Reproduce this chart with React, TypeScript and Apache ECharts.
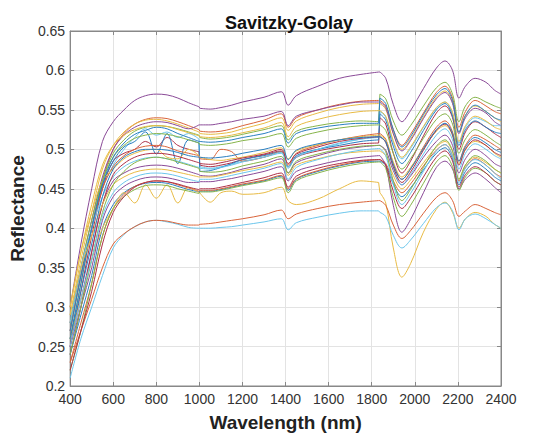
import React, { useEffect, useRef } from "react";
import * as echarts from "echarts";

const wavelengths = [400, 450, 500, 550, 600, 650, 700, 750, 800, 850, 900, 950, 998, 1002, 1050, 1100, 1150, 1200, 1300, 1380, 1412, 1450, 1550, 1650, 1750, 1832, 1838, 1865, 1900, 1940, 1980, 2040, 2100, 2140, 2175, 2205, 2235, 2280, 2330, 2370, 2400];

const xTicks = [400, 600, 800, 1000, 1200, 1400, 1600, 1800, 2000, 2200, 2400];
const yTicks = [0.2, 0.25, 0.3, 0.35, 0.4, 0.45, 0.5, 0.55, 0.6, 0.65];

const spec01 = [0.30, 0.38, 0.45, 0.51, 0.535, 0.550, 0.562, 0.568, 0.570, 0.569, 0.565, 0.559, 0.554, 0.552, 0.551, 0.553, 0.556, 0.560, 0.566, 0.573, 0.556, 0.568, 0.580, 0.590, 0.595, 0.598, 0.598, 0.590, 0.557, 0.535, 0.549, 0.577, 0.603, 0.612, 0.600, 0.565, 0.580, 0.590, 0.585, 0.575, 0.570];
const spec02 = [0.27, 0.34, 0.40, 0.46, 0.50, 0.520, 0.532, 0.538, 0.540, 0.539, 0.535, 0.530, 0.525, 0.523, 0.522, 0.523, 0.526, 0.530, 0.537, 0.545, 0.528, 0.540, 0.550, 0.557, 0.561, 0.562, 0.562, 0.555, 0.525, 0.505, 0.519, 0.546, 0.572, 0.580, 0.565, 0.528, 0.548, 0.562, 0.555, 0.548, 0.545];
const spec03 = [0.29, 0.36, 0.42, 0.475, 0.505, 0.522, 0.532, 0.537, 0.538, 0.536, 0.532, 0.527, 0.522, 0.520, 0.519, 0.520, 0.522, 0.526, 0.533, 0.540, 0.524, 0.536, 0.546, 0.553, 0.557, 0.558, 0.558, 0.551, 0.520, 0.500, 0.513, 0.541, 0.566, 0.574, 0.560, 0.522, 0.543, 0.555, 0.548, 0.540, 0.535];
const spec04 = [0.28, 0.35, 0.41, 0.465, 0.50, 0.518, 0.528, 0.533, 0.535, 0.534, 0.530, 0.526, 0.531, 0.531, 0.531, 0.533, 0.535, 0.538, 0.542, 0.548, 0.530, 0.542, 0.550, 0.556, 0.560, 0.560, 0.560, 0.553, 0.520, 0.498, 0.511, 0.539, 0.564, 0.572, 0.558, 0.520, 0.540, 0.552, 0.546, 0.535, 0.530];
const spec05 = [0.26, 0.33, 0.40, 0.46, 0.495, 0.512, 0.523, 0.528, 0.530, 0.529, 0.526, 0.522, 0.518, 0.515, 0.513, 0.514, 0.516, 0.519, 0.525, 0.530, 0.512, 0.523, 0.530, 0.534, 0.536, 0.535, 0.570, 0.564, 0.536, 0.518, 0.530, 0.555, 0.578, 0.585, 0.570, 0.535, 0.555, 0.566, 0.560, 0.555, 0.552];
const spec06 = [0.27, 0.34, 0.40, 0.45, 0.48, 0.500, 0.515, 0.526, 0.518, 0.522, 0.515, 0.520, 0.513, 0.478, 0.476, 0.478, 0.481, 0.485, 0.490, 0.495, 0.476, 0.490, 0.500, 0.507, 0.513, 0.515, 0.548, 0.541, 0.509, 0.488, 0.501, 0.528, 0.552, 0.560, 0.545, 0.508, 0.528, 0.540, 0.535, 0.530, 0.530];
const spec07 = [0.25, 0.32, 0.39, 0.45, 0.485, 0.495, 0.500, 0.510, 0.503, 0.515, 0.505, 0.500, 0.497, 0.480, 0.478, 0.480, 0.483, 0.487, 0.493, 0.498, 0.478, 0.490, 0.498, 0.503, 0.507, 0.508, 0.540, 0.532, 0.495, 0.470, 0.485, 0.517, 0.546, 0.555, 0.540, 0.500, 0.522, 0.535, 0.528, 0.520, 0.515];
const spec08 = [0.26, 0.33, 0.40, 0.455, 0.485, 0.503, 0.510, 0.522, 0.494, 0.520, 0.482, 0.512, 0.508, 0.472, 0.473, 0.477, 0.482, 0.487, 0.492, 0.497, 0.478, 0.492, 0.500, 0.505, 0.510, 0.512, 0.545, 0.537, 0.504, 0.482, 0.496, 0.524, 0.550, 0.558, 0.542, 0.505, 0.525, 0.536, 0.528, 0.522, 0.520];
const spec09 = [0.27, 0.34, 0.40, 0.45, 0.478, 0.492, 0.500, 0.504, 0.505, 0.503, 0.498, 0.495, 0.492, 0.488, 0.487, 0.500, 0.497, 0.485, 0.490, 0.497, 0.480, 0.495, 0.505, 0.512, 0.517, 0.520, 0.520, 0.513, 0.482, 0.462, 0.475, 0.503, 0.528, 0.536, 0.522, 0.485, 0.505, 0.518, 0.512, 0.505, 0.500];
const spec10 = [0.30, 0.37, 0.42, 0.46, 0.475, 0.488, 0.495, 0.499, 0.500, 0.490, 0.488, 0.500, 0.492, 0.490, 0.487, 0.486, 0.488, 0.490, 0.496, 0.502, 0.488, 0.498, 0.506, 0.512, 0.516, 0.518, 0.518, 0.512, 0.484, 0.465, 0.477, 0.501, 0.523, 0.530, 0.518, 0.482, 0.500, 0.510, 0.505, 0.495, 0.490];
const spec11 = [0.25, 0.31, 0.37, 0.43, 0.46, 0.470, 0.476, 0.479, 0.480, 0.479, 0.476, 0.472, 0.468, 0.467, 0.466, 0.468, 0.471, 0.475, 0.481, 0.488, 0.470, 0.483, 0.492, 0.499, 0.503, 0.505, 0.505, 0.499, 0.473, 0.455, 0.466, 0.490, 0.510, 0.518, 0.505, 0.470, 0.488, 0.500, 0.492, 0.482, 0.478];
const spec12 = [0.28, 0.35, 0.41, 0.46, 0.49, 0.505, 0.514, 0.518, 0.520, 0.519, 0.516, 0.512, 0.508, 0.506, 0.505, 0.506, 0.508, 0.511, 0.515, 0.520, 0.503, 0.514, 0.522, 0.527, 0.530, 0.531, 0.531, 0.524, 0.495, 0.475, 0.488, 0.514, 0.538, 0.545, 0.532, 0.495, 0.513, 0.525, 0.518, 0.510, 0.505];
const spec13 = [0.28, 0.35, 0.40, 0.44, 0.465, 0.478, 0.485, 0.489, 0.490, 0.488, 0.485, 0.481, 0.477, 0.476, 0.475, 0.477, 0.480, 0.484, 0.490, 0.496, 0.478, 0.490, 0.500, 0.508, 0.513, 0.516, 0.516, 0.509, 0.476, 0.455, 0.468, 0.494, 0.518, 0.526, 0.512, 0.475, 0.495, 0.507, 0.500, 0.492, 0.488];
const spec14 = [0.24, 0.30, 0.37, 0.43, 0.468, 0.482, 0.490, 0.494, 0.495, 0.494, 0.491, 0.487, 0.483, 0.482, 0.481, 0.483, 0.486, 0.489, 0.494, 0.500, 0.482, 0.494, 0.503, 0.510, 0.514, 0.516, 0.516, 0.509, 0.478, 0.458, 0.471, 0.499, 0.524, 0.532, 0.518, 0.480, 0.500, 0.512, 0.505, 0.496, 0.492];
const spec15 = [0.24, 0.29, 0.34, 0.40, 0.43, 0.445, 0.453, 0.457, 0.458, 0.457, 0.453, 0.449, 0.446, 0.447, 0.447, 0.449, 0.452, 0.455, 0.460, 0.466, 0.448, 0.462, 0.472, 0.479, 0.484, 0.485, 0.485, 0.480, 0.456, 0.440, 0.451, 0.474, 0.495, 0.502, 0.488, 0.455, 0.472, 0.483, 0.475, 0.465, 0.460];
const spec16 = [0.23, 0.28, 0.33, 0.39, 0.425, 0.443, 0.453, 0.458, 0.460, 0.459, 0.455, 0.451, 0.447, 0.448, 0.448, 0.450, 0.453, 0.456, 0.461, 0.467, 0.450, 0.463, 0.473, 0.480, 0.485, 0.487, 0.487, 0.482, 0.460, 0.445, 0.456, 0.479, 0.499, 0.506, 0.492, 0.460, 0.477, 0.488, 0.480, 0.470, 0.465];
const spec17 = [0.26, 0.31, 0.36, 0.40, 0.425, 0.445, 0.432, 0.455, 0.438, 0.455, 0.432, 0.452, 0.445, 0.445, 0.433, 0.445, 0.447, 0.443, 0.445, 0.452, 0.435, 0.430, 0.437, 0.450, 0.460, 0.458, 0.445, 0.432, 0.375, 0.338, 0.355, 0.395, 0.424, 0.433, 0.420, 0.400, 0.412, 0.420, 0.415, 0.405, 0.400];
const spec18 = [0.25, 0.30, 0.35, 0.41, 0.44, 0.453, 0.460, 0.464, 0.465, 0.464, 0.461, 0.458, 0.458, 0.459, 0.459, 0.461, 0.463, 0.466, 0.472, 0.478, 0.460, 0.472, 0.480, 0.486, 0.490, 0.492, 0.492, 0.480, 0.429, 0.395, 0.411, 0.445, 0.477, 0.485, 0.475, 0.450, 0.462, 0.470, 0.462, 0.452, 0.445];
const spec19 = [0.22, 0.27, 0.33, 0.39, 0.425, 0.440, 0.449, 0.454, 0.455, 0.454, 0.450, 0.447, 0.444, 0.446, 0.446, 0.448, 0.451, 0.454, 0.459, 0.464, 0.445, 0.460, 0.470, 0.477, 0.482, 0.484, 0.484, 0.476, 0.439, 0.415, 0.429, 0.457, 0.484, 0.492, 0.478, 0.448, 0.465, 0.476, 0.470, 0.460, 0.455];
const spec20 = [0.21, 0.26, 0.30, 0.34, 0.375, 0.392, 0.402, 0.408, 0.410, 0.408, 0.405, 0.401, 0.400, 0.400, 0.400, 0.401, 0.402, 0.404, 0.408, 0.412, 0.398, 0.407, 0.414, 0.419, 0.422, 0.422, 0.420, 0.415, 0.391, 0.375, 0.385, 0.406, 0.426, 0.432, 0.422, 0.398, 0.412, 0.418, 0.412, 0.405, 0.400];
const spec21 = [0.23, 0.27, 0.31, 0.35, 0.38, 0.393, 0.402, 0.408, 0.410, 0.409, 0.406, 0.404, 0.404, 0.405, 0.406, 0.408, 0.410, 0.412, 0.417, 0.423, 0.412, 0.418, 0.425, 0.430, 0.433, 0.435, 0.435, 0.429, 0.404, 0.387, 0.397, 0.419, 0.439, 0.445, 0.435, 0.415, 0.422, 0.430, 0.425, 0.420, 0.417];
const spec22 = [0.27, 0.34, 0.40, 0.455, 0.49, 0.508, 0.519, 0.524, 0.528, 0.526, 0.520, 0.515, 0.510, 0.510, 0.509, 0.510, 0.512, 0.515, 0.520, 0.526, 0.508, 0.520, 0.527, 0.531, 0.533, 0.533, 0.565, 0.558, 0.525, 0.503, 0.516, 0.544, 0.569, 0.577, 0.562, 0.522, 0.543, 0.556, 0.548, 0.540, 0.537];
const spec23 = [0.29, 0.35, 0.39, 0.43, 0.455, 0.465, 0.471, 0.474, 0.475, 0.474, 0.471, 0.468, 0.465, 0.465, 0.465, 0.467, 0.470, 0.473, 0.478, 0.484, 0.467, 0.480, 0.488, 0.494, 0.497, 0.498, 0.498, 0.492, 0.467, 0.450, 0.461, 0.483, 0.503, 0.510, 0.497, 0.462, 0.480, 0.490, 0.483, 0.475, 0.470];
const spec24 = [0.24, 0.30, 0.36, 0.42, 0.455, 0.472, 0.483, 0.488, 0.490, 0.488, 0.484, 0.480, 0.476, 0.472, 0.471, 0.472, 0.475, 0.479, 0.485, 0.491, 0.470, 0.485, 0.494, 0.500, 0.504, 0.505, 0.505, 0.497, 0.460, 0.435, 0.449, 0.477, 0.504, 0.512, 0.498, 0.462, 0.480, 0.492, 0.485, 0.475, 0.470];
const spec25 = [0.25, 0.31, 0.36, 0.415, 0.445, 0.458, 0.465, 0.469, 0.470, 0.469, 0.466, 0.462, 0.459, 0.462, 0.462, 0.464, 0.467, 0.470, 0.476, 0.482, 0.462, 0.477, 0.487, 0.494, 0.499, 0.501, 0.501, 0.492, 0.455, 0.430, 0.444, 0.472, 0.498, 0.506, 0.492, 0.458, 0.476, 0.487, 0.480, 0.470, 0.462];
const spec26 = [0.22, 0.27, 0.32, 0.38, 0.42, 0.440, 0.452, 0.458, 0.460, 0.459, 0.456, 0.452, 0.449, 0.450, 0.450, 0.452, 0.455, 0.458, 0.464, 0.470, 0.452, 0.466, 0.476, 0.482, 0.486, 0.487, 0.487, 0.480, 0.447, 0.425, 0.438, 0.465, 0.490, 0.498, 0.485, 0.452, 0.468, 0.478, 0.470, 0.460, 0.455];
const spec27 = [0.26, 0.32, 0.38, 0.44, 0.475, 0.490, 0.497, 0.500, 0.500, 0.499, 0.496, 0.492, 0.490, 0.490, 0.489, 0.490, 0.492, 0.495, 0.500, 0.505, 0.487, 0.499, 0.507, 0.512, 0.515, 0.516, 0.516, 0.510, 0.481, 0.462, 0.475, 0.501, 0.525, 0.533, 0.520, 0.485, 0.503, 0.515, 0.508, 0.500, 0.496];
const spec28 = [0.30, 0.37, 0.43, 0.48, 0.505, 0.518, 0.525, 0.529, 0.530, 0.529, 0.525, 0.521, 0.517, 0.516, 0.515, 0.516, 0.518, 0.521, 0.527, 0.534, 0.516, 0.529, 0.538, 0.544, 0.548, 0.549, 0.549, 0.542, 0.511, 0.490, 0.503, 0.529, 0.553, 0.560, 0.547, 0.510, 0.530, 0.542, 0.536, 0.528, 0.525];

const spectra = [spec01, spec02, spec03, spec04, spec05, spec06, spec07, spec08, spec09, spec10, spec11, spec12, spec13, spec14, spec15, spec16, spec17, spec18, spec19, spec20, spec21, spec22, spec23, spec24, spec25, spec26, spec27, spec28];

// detector joins (indices into wavelengths where the spectrum steps)
const joins = [12, 25];

const BLUE = "#2a7fc0";
const ORANGE = "#d9643a";
const YELLOW = "#e8bb45";
const PURPLE = "#8a4a97";
const GREEN = "#86b44a";
const CYAN = "#6cc6ec";
const DARKRED = "#ad3148";

const lineColors = [PURPLE, ORANGE, YELLOW, PURPLE, GREEN, CYAN, DARKRED, BLUE, ORANGE, YELLOW, PURPLE, GREEN, CYAN, DARKRED, BLUE, ORANGE, YELLOW, PURPLE, GREEN, CYAN, ORANGE, BLUE, YELLOW, GREEN, CYAN, DARKRED, BLUE, YELLOW];

export default function App() {
  const ref = useRef<HTMLDivElement>(null);
  useEffect(() => {
    if (!ref.current) return;
    const chart = echarts.init(ref.current, null, { renderer: "svg" });
    const font = "Liberation Sans, Arial, Helvetica, sans-serif";
    const series: any[] = [];
    spectra.forEach((vals, i) => {
      const pts = vals.map((v, j) => [wavelengths[j], v]);
      const bounds = [0, ...joins.map((k) => k + 1), pts.length];
      const base = {
        type: "line",
        showSymbol: false,
        lineStyle: { width: 1, color: lineColors[i] },
        itemStyle: { color: lineColors[i] },
        silent: true,
        z: 3,
      };
      for (let s = 0; s < bounds.length - 1; s++) {
        series.push({ ...base, name: "s" + (i + 1), smooth: 0.35, data: pts.slice(bounds[s], bounds[s + 1]) });
      }
      joins.forEach((k) => {
        series.push({ ...base, name: "s" + (i + 1), smooth: false, data: [pts[k], pts[k + 1]] });
      });
    });
    chart.setOption({
      animation: false,
      backgroundColor: "#ffffff",
      title: {
        text: "Savitzky-Golay",
        left: 284,
        textAlign: "center",
        top: 9,
        textStyle: { fontFamily: font, fontSize: 18, fontWeight: "bold", color: "#111" },
      },
      grid: {
        left: 67,
        right: 41,
        top: 31,
        bottom: 53,
        show: true,
        borderColor: "#888",
        borderWidth: 1,
        backgroundColor: "transparent",
      },
      xAxis: [
        {
          type: "value",
          min: 400,
          max: 2400,
          interval: 200,
          name: "Wavelength (nm)",
          nameLocation: "middle",
          nameGap: 27,
          nameTextStyle: { fontFamily: font, fontSize: 19, fontWeight: "bold", color: "#222" },
          axisLine: { show: true, lineStyle: { color: "#888" } },
          axisTick: { show: true, inside: true, length: 4, lineStyle: { color: "#888" } },
          axisLabel: { fontFamily: font, fontSize: 14, color: "#333", margin: 6, formatter: (v: number) => (xTicks.includes(v) ? String(v) : "") },
          splitLine: { show: true, lineStyle: { color: "#e3e3e3", width: 1 } },
        },
        {
          type: "value",
          position: "top",
          min: 400,
          max: 2400,
          interval: 200,
          axisLine: { show: true, lineStyle: { color: "#888" } },
          axisTick: { show: true, inside: true, length: 4, lineStyle: { color: "#888" } },
          axisLabel: { show: false },
          splitLine: { show: false },
        },
      ],
      yAxis: [
        {
          type: "value",
          min: 0.2,
          max: 0.65,
          interval: 0.05,
          name: "Reflectance",
          nameLocation: "middle",
          nameGap: 34,
          nameTextStyle: { fontFamily: font, fontSize: 19, fontWeight: "bold", color: "#222" },
          axisLine: { show: true, lineStyle: { color: "#888" } },
          axisTick: { show: true, inside: true, length: 4, lineStyle: { color: "#888" } },
          axisLabel: {
            fontFamily: font,
            fontSize: 14,
            color: "#333",
            margin: 5,
            formatter: (v: number) => {
              const r = Math.round(v * 100) / 100;
              const hit = yTicks.find((t) => Math.abs(t - r) < 1e-6);
              return hit === undefined ? "" : String(hit);
            },
          },
          splitLine: { show: true, lineStyle: { color: "#e3e3e3", width: 1 } },
        },
        {
          type: "value",
          position: "right",
          min: 0.2,
          max: 0.65,
          interval: 0.05,
          axisLine: { show: true, lineStyle: { color: "#888" } },
          axisTick: { show: true, inside: true, length: 4, lineStyle: { color: "#888" } },
          axisLabel: { show: false },
          splitLine: { show: false },
        },
      ],
      series,
    });
    return () => chart.dispose();
  }, []);
  return <div ref={ref} style={{ position: "fixed", left: 0, top: 0, width: 542, height: 439 }} />;
}
